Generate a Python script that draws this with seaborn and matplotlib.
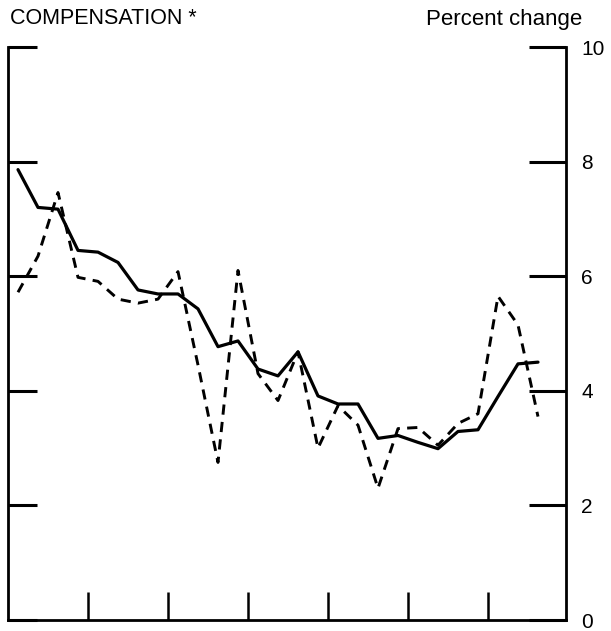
import matplotlib
matplotlib.use("Agg")
import matplotlib.pyplot as plt
import seaborn as sns
import pandas as pd
import numpy as np

# quarterly values (percent change)
quarter = list(range(27))
four_quarter = [7.86, 7.20, 7.17, 6.45, 6.42, 6.24, 5.76, 5.69, 5.69, 5.43,
                4.77, 4.87, 4.38, 4.26, 4.68, 3.91, 3.77, 3.77, 3.17, 3.22,
                3.10, 2.99, 3.29, 3.32, 3.90, 4.47, 4.50]
quarterly = [5.72, 6.35, 7.46, 5.98, 5.91, 5.60, 5.53, 5.60, 6.08, 4.45,
             2.75, 6.10, 4.30, 3.83, 4.68, 3.00, 3.74, 3.40, 2.30, 3.34,
             3.36, 3.05, 3.43, 3.60, 5.65, 5.15, 3.55]
year_bounds = [3.5, 7.5, 11.5, 15.5, 19.5, 23.5]
y_ticks = [0, 2, 4, 6, 8, 10]

sns.set_style("white")
plt.rcParams['font.family'] = ['Liberation Sans', 'DejaVu Sans']

df = pd.DataFrame({"q": quarter, "four": four_quarter, "qtr": quarterly})

fig = plt.figure(figsize=(6.11, 6.31), dpi=100)
ax = fig.add_axes([8/611, 11/631, 558/611, 573/631])

sns.lineplot(data=df, x="q", y="four", ax=ax, color="black", linewidth=2.3)
sns.lineplot(data=df, x="q", y="qtr", ax=ax, color="black", linewidth=2.1,
             dashes=False, linestyle=(0, (3.5, 2.5)))

ax.set_xlim(-0.5, 27.4)
ax.set_ylim(0, 10)
ax.set_xlabel("")
ax.set_ylabel("")

for s in ["left", "right", "bottom"]:
    ax.spines[s].set_visible(True)
    ax.spines[s].set_linewidth(2.0)
    ax.spines[s].set_color("black")
ax.spines["top"].set_visible(False)

ax.set_xticks(year_bounds)
ax.tick_params(axis="x", direction="in", length=20, width=1.8, color="black",
               labelbottom=False, bottom=True, top=False)
ax.set_yticks(y_ticks)
ax.tick_params(axis="y", direction="in", length=21, width=2.2, color="black",
               left=True, right=False, labelleft=False, labelright=False)

ax2 = ax.twinx()
ax2.set_ylim(0, 10)
ax2.set_yticks(y_ticks)
ax2.set_yticklabels([str(v) for v in y_ticks])
for s in ["left", "top", "bottom", "right"]:
    ax2.spines[s].set_visible(False)
ax2.tick_params(axis="y", direction="in", length=27, width=2.2, color="black",
                right=True, left=False, labelright=True, labelleft=False,
                labelsize=15, pad=11, labelcolor="black")

fig.text(10/611, 1 - 19/631, "COMPENSATION *", fontsize=15.5, ha="left",
         va="center", color="black")
fig.text(582/611, 1 - 19/631, "Percent change", fontsize=16, ha="right",
         va="center", color="black")

fig.savefig("out.png", dpi=100)
